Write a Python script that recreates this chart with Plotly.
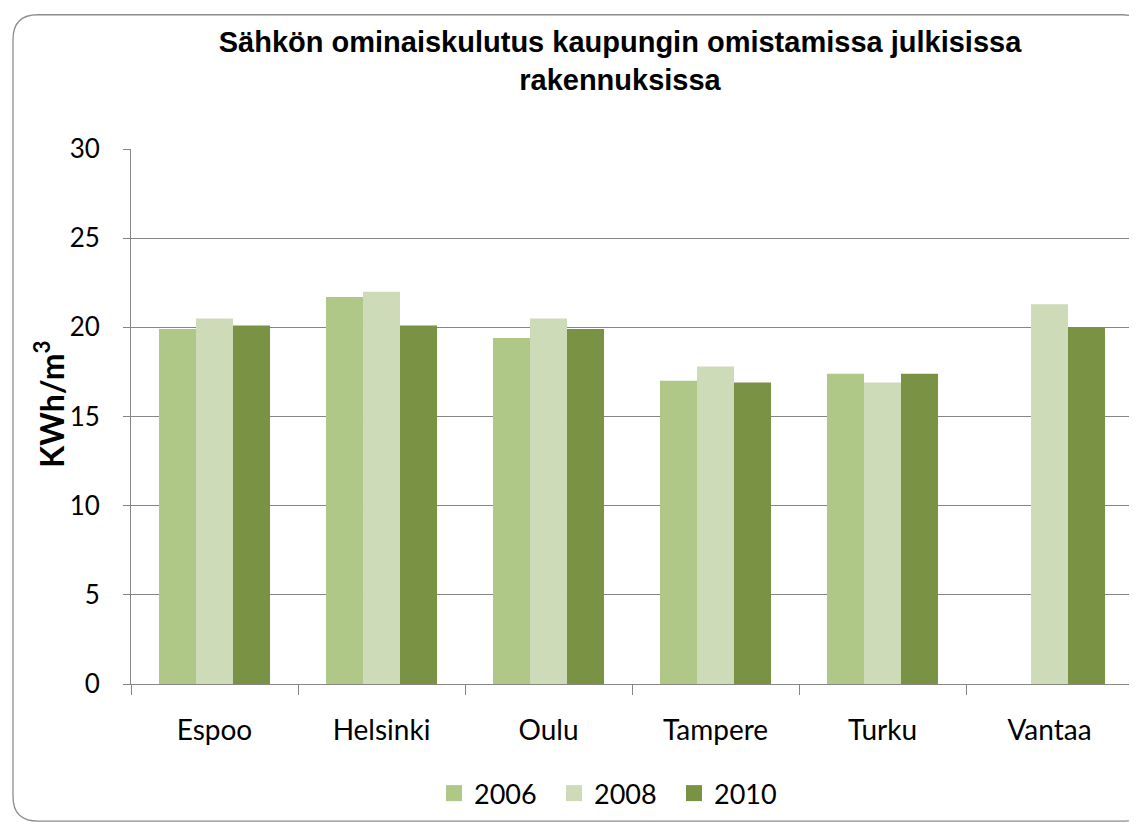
import plotly.graph_objects as go

cities = ["Espoo", "Helsinki", "Oulu", "Tampere", "Turku", "Vantaa"]
y2006 = [19.9, 21.7, 19.4, 17.0, 17.4, None]
y2008 = [20.5, 22.0, 20.5, 17.8, 16.9, 21.3]
y2010 = [20.1, 20.1, 19.9, 16.9, 17.4, 20.0]
years = ["2006", "2008", "2010"]
colors = ["#AFC787", "#CEDBB8", "#7A9244"]
y_ticks = [0, 5, 10, 15, 20, 25, 30]

W, H = 1137, 822
L, R, T, B = 123, 12, 141, 139
PW, PH = W - L - R, H - T - B


def px(x):
    return (x - L) / PW


def py(y):
    return (H - B - y) / PH


fig = go.Figure()
for name, vals, col in zip(years, [y2006, y2008, y2010], colors):
    fig.add_trace(go.Bar(x=cities, y=vals, name=name, marker=dict(color=col, line=dict(width=0)),
                         showlegend=False))
    fig.add_trace(go.Scatter(x=[None], y=[None], mode="markers", name=name,
                             marker=dict(symbol="square", size=17, color=col)))

font_fam = "Lato, Open Sans, sans-serif"
grid = "#868686"

fig.update_layout(
    width=W, height=H,
    margin=dict(l=L, r=R, t=T, b=B),
    paper_bgcolor="white", plot_bgcolor="white",
    barmode="group", bargap=0.335, bargroupgap=0,
    title=dict(text="Sähkön ominaiskulutus kaupungin omistamissa julkisissa<br>rakennuksissa",
               x=612 / W, xanchor="center", xref="container",
               y=1 - 44 / H, yanchor="top", yref="container",
               font=dict(family="Liberation Sans, Arial, sans-serif", size=29, color="#000000",
                         weight="bold")),
    xaxis=dict(showline=True, linecolor=grid, linewidth=1, ticks="outside", ticklen=10,
               tickcolor=grid, tickson="boundaries", showgrid=False,
               tickfont=dict(family=font_fam, size=28, color="#000000"),
               ticklabelstandoff=21),
    yaxis=dict(range=[0, 30], tickvals=y_ticks, showline=True, linecolor=grid, linewidth=1,
               ticks="outside", ticklen=7, tickcolor=grid, showgrid=True, gridcolor=grid,
               gridwidth=1, zeroline=False,
               tickfont=dict(family=font_fam, size=26, color="#000000"),
               ticklabelstandoff=18),
    legend=dict(orientation="h", x=px(606), xanchor="center", y=py(794), yanchor="middle",
                font=dict(family=font_fam, size=27, color="#000000"),
                itemwidth=30, entrywidth=75, entrywidthmode="pixels",
                bgcolor="rgba(0,0,0,0)"),
)

fig.add_annotation(text="<b>KWh/m<sup>3</sup></b>", xref="paper", yref="paper",
                   x=px(41), y=py(400), textangle=-90, showarrow=False,
                   xanchor="center", yanchor="middle",
                   font=dict(family=font_fam, size=32, color="#000000"))

# rounded chart frame
r = 25
x0, y0, x1, y1 = 5, 5, 1139, 822
path = (f"M {px(x0)},{py(y0 + r)} Q {px(x0)},{py(y0)} {px(x0 + r)},{py(y0)} "
        f"L {px(x1 - r)},{py(y0)} Q {px(x1)},{py(y0)} {px(x1)},{py(y0 + r)} "
        f"L {px(x1)},{py(y1 - r)} Q {px(x1)},{py(y1)} {px(x1 - r)},{py(y1)} "
        f"L {px(x0 + r)},{py(y1)} Q {px(x0)},{py(y1)} {px(x0)},{py(y1 - r)} Z")
fig.add_shape(type="path", path=path, xref="paper", yref="paper",
              line=dict(color="#8C8C8C", width=1.3), layer="below")

fig.write_html("out.html")
